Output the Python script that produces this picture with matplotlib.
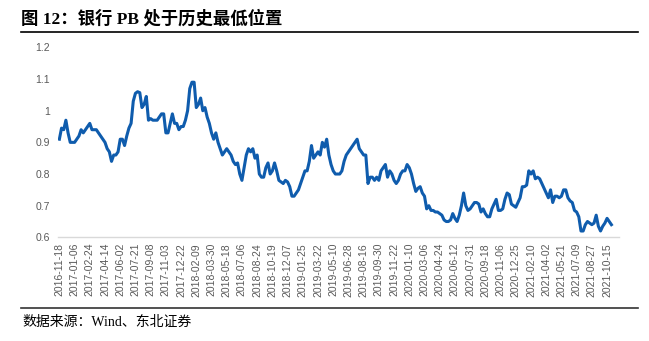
import matplotlib.pyplot as plt
import numpy as np

# weekly bank-sector PB
pb = [
    0.91, 0.945, 0.94, 0.97, 0.93, 0.90, 0.90, 0.90, 0.91, 0.92,
    0.94, 0.93, 0.94, 0.95, 0.96, 0.94, 0.94, 0.94, 0.93, 0.92,
    0.91, 0.90, 0.88, 0.87, 0.84, 0.86, 0.86, 0.87, 0.91, 0.91,
    0.89, 0.92, 0.945, 0.96, 1.03, 1.055, 1.06, 1.057, 1.01, 1.02,
    1.045, 0.97, 0.975, 0.97, 0.97, 0.97, 0.98, 0.99, 0.99, 0.93,
    0.93, 0.96, 0.99, 0.96, 0.96, 0.94, 0.95, 0.95, 0.97, 1.00,
    1.07, 1.09, 1.09, 1.01, 1.02, 1.04, 1.00, 1.01, 0.98, 0.96,
    0.93, 0.91, 0.93, 0.90, 0.88, 0.86, 0.87, 0.88, 0.87, 0.86,
    0.84, 0.83, 0.835, 0.80, 0.78, 0.82, 0.86, 0.88, 0.87, 0.88,
    0.85, 0.86, 0.80, 0.79, 0.79, 0.82, 0.835, 0.80, 0.81, 0.835,
    0.81, 0.78, 0.775, 0.77, 0.78, 0.775, 0.76, 0.73, 0.73, 0.74,
    0.75, 0.77, 0.79, 0.81, 0.81, 0.84, 0.89, 0.85, 0.86, 0.87,
    0.86, 0.90, 0.885, 0.91, 0.86, 0.83, 0.81, 0.80, 0.80, 0.80,
    0.81, 0.84, 0.86, 0.87, 0.88, 0.89, 0.90, 0.91, 0.88, 0.87,
    0.86, 0.86, 0.77, 0.79, 0.79, 0.78, 0.79, 0.78, 0.81, 0.82,
    0.83, 0.79, 0.81, 0.80, 0.78, 0.77, 0.78, 0.80, 0.81, 0.81,
    0.83, 0.82, 0.80, 0.77, 0.745, 0.755, 0.76, 0.74, 0.73, 0.69,
    0.70, 0.685, 0.685, 0.68, 0.68, 0.675, 0.67, 0.655, 0.65, 0.65,
    0.655, 0.675, 0.66, 0.65, 0.67, 0.70, 0.74, 0.70, 0.685, 0.69,
    0.70, 0.71, 0.71, 0.705, 0.68, 0.69, 0.675, 0.665, 0.665, 0.69,
    0.705, 0.72, 0.685, 0.685, 0.69, 0.72, 0.74, 0.735, 0.705, 0.70,
    0.695, 0.71, 0.725, 0.76, 0.76, 0.765, 0.81, 0.80, 0.81, 0.785,
    0.79, 0.785, 0.77, 0.755, 0.74, 0.725, 0.75, 0.71, 0.73, 0.73,
    0.725, 0.73, 0.75, 0.75, 0.725, 0.715, 0.71, 0.685, 0.68, 0.665,
    0.62, 0.62, 0.64, 0.65, 0.645, 0.64, 0.645, 0.67, 0.635, 0.62,
    0.635, 0.645, 0.66, 0.65, 0.64,
]

tick_labels = [
    '2016-11-18', '2017-01-06', '2017-02-24', '2017-04-14', '2017-06-02',
    '2017-07-21', '2017-09-08', '2017-11-03', '2017-12-22', '2018-02-09',
    '2018-03-30', '2018-05-18', '2018-07-06', '2018-08-24', '2018-10-19',
    '2018-12-07', '2019-01-25', '2019-03-22', '2019-05-10', '2019-06-28',
    '2019-08-16', '2019-09-30', '2019-11-22', '2020-01-10', '2020-03-06',
    '2020-04-24', '2020-06-12', '2020-07-31', '2020-09-18', '2020-11-06',
    '2020-12-25', '2021-02-10', '2021-04-02', '2021-05-21', '2021-07-09',
    '2021-08-27', '2021-10-15',
]

fig = plt.figure(figsize=(6.49, 3.41), dpi=100)
ax = fig.add_axes([0.0898, 0.304, 0.864, 0.557])

ax.plot(np.arange(len(pb)), pb, color='#0f5cad', linewidth=2.2, solid_joinstyle='round')

ax.set_xlim(-0.5, 257.5)
ax.set_ylim(0.6, 1.2)
ax.set_yticks([0.6, 0.7, 0.8, 0.9, 1.0, 1.1, 1.2])
ax.set_yticklabels(['0.6', '0.7', '0.8', '0.9', '1', '1.1', '1.2'],
                   fontsize=7.5, color='#595959', family='Liberation Sans')
ax.set_xticks(np.arange(len(tick_labels)) * 7)
ax.set_xticklabels(tick_labels, rotation=90, fontsize=7.5, color='#595959',
                   family='Liberation Sans')
ax.tick_params(length=0, pad=6)
ax.tick_params(axis='x', pad=4)

for side in ['top', 'right', 'left']:
    ax.spines[side].set_visible(False)
ax.spines['bottom'].set_color('#d9d9d9')
ax.spines['bottom'].set_linewidth(1.0)

# title, rules and source note
fig.text(0.032, 0.945, '图 12：银行 PB 处于历史最低位置', fontsize=12.5, fontweight='bold',
         family=['Liberation Serif', 'Noto Sans CJK SC'], va='center')
fig.add_artist(plt.Line2D([0.033, 0.983], [0.906, 0.906], color='black', linewidth=1.2))
fig.add_artist(plt.Line2D([0.033, 0.983], [0.098, 0.098], color='#333333', linewidth=1.2))
fig.text(0.034, 0.054, '数据来源：Wind、东北证券', fontsize=10,
         family=['Liberation Serif', 'Noto Sans CJK SC'], va='center')

fig.savefig('out.png', dpi=100)
